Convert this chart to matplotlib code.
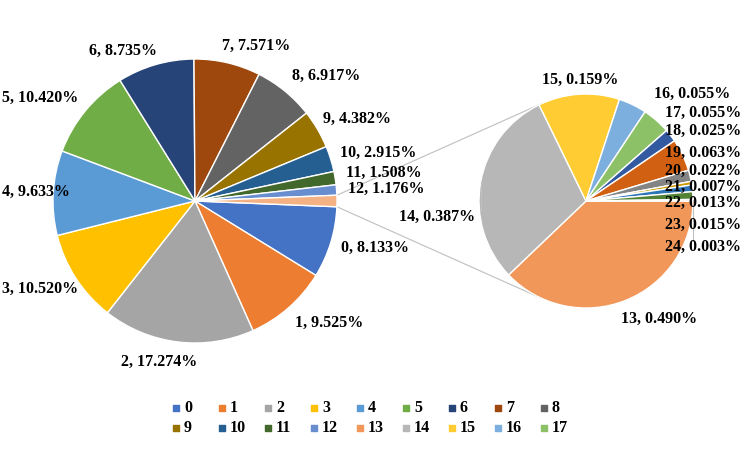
import numpy as np
import matplotlib
matplotlib.use("Agg")
import matplotlib.pyplot as plt

plt.rcParams["font.family"] = ["Liberation Serif", "DejaVu Serif"]
plt.rcParams["font.weight"] = "bold"

# data (percent shares)
cats = [str(i) for i in range(25)]
pct = [8.133, 9.525, 17.274, 10.520, 9.633, 10.420, 8.735, 7.571, 6.917, 4.382,
       2.915, 1.508, 1.176, 0.490, 0.387, 0.159, 0.055, 0.055, 0.025, 0.063,
       0.022, 0.007, 0.013, 0.015, 0.003]
n_main = 13  # points 13..24 go to the second pie
legend_cats = cats[:18]

colors = ["#4472C4", "#ED7D31", "#A5A5A5", "#FFC000", "#5B9BD5", "#70AD47",
          "#264478", "#9E480E", "#636363", "#997300", "#255E91", "#43682B",
          "#698ED0", "#F1975A", "#B7B7B7", "#FFCD33", "#7CAFDD", "#8CC168",
          "#335AA1", "#D26012", "#848484", "#CC9A00", "#2E75B6", "#548235",
          "#8FAADC"]
other_color = "#F4B183"

W, H = 747, 449
FS = 11.5
fig = plt.figure(figsize=(W / 100, H / 100), dpi=100)
ax = fig.add_axes([0, 0, 1, 1])

c1, r1 = (195, H - 201), 142   # main pie (pixel units)
c2, r2 = (586, H - 201), 107   # second pie

main_vals = pct[:n_main] + [sum(pct[n_main:])]
sub_vals = pct[n_main:]
other_half = sum(pct[n_main:]) / sum(main_vals) * 360 / 2
wp = dict(edgecolor="white", linewidth=1.0)
w1, _ = ax.pie(main_vals, center=c1, radius=r1, startangle=-other_half,
               counterclock=False, colors=colors[:n_main] + [other_color],
               wedgeprops=wp)
w2, _ = ax.pie(sub_vals, center=c2, radius=r2, startangle=0,
               counterclock=False, colors=colors[n_main:], wedgeprops=wp)
for w in w1 + w2:
    w.set_zorder(3)

# connector lines: split slice edges -> tangents of second pie
for sgn in (1, -1):
    a = np.radians(sgn * other_half)
    p = np.array([c1[0] + r1 * np.cos(a), c1[1] + r1 * np.sin(a)])
    v = p - np.array(c2)
    phi = np.arctan2(v[1], v[0])
    alpha = np.arccos(r2 / np.hypot(*v))
    t = phi - alpha if sgn > 0 else phi + alpha
    q = (c2[0] + r2 * np.cos(t), c2[1] + r2 * np.sin(t))
    ax.plot([p[0], q[0]], [p[1], q[1]], color="#BFBFBF", lw=0.8, zorder=1)

ax.set_xlim(0, W); ax.set_ylim(0, H)
ax.set_aspect("equal"); ax.axis("off")

renderer = fig.canvas.get_renderer()
# hand tweaks of label placement (pixels, +y is up)
nudge = {1: (10, 0), 2: (-12, 0), 5: (-7, 0), 6: (-20, -5), 7: (18, -3),
         8: (12, 0), 11: (0, 2), 13: (15, 0), 14: (6, -38), 15: (5, -6),
         16: (38, -7), 17: (15, -7), 18: (-4, -8), 19: (0, -6),
         23: (0, -30), 24: (0, -47)}


def place(center, r, wedge, label, d=12):
    th = np.radians((wedge.theta1 + wedge.theta2) / 2)
    c, s = np.cos(th), np.sin(th)
    t = ax.text(0, 0, label, ha="center", va="center", fontsize=FS,
                fontweight="bold", zorder=5)
    bb = t.get_window_extent(renderer)
    w, h = bb.width, bb.height
    x = center[0] + (r + d) * c + w / 2 * c
    y = center[1] + (r + d) * s + h / 2 * s
    return t, x, y, w, h, th


def clamp(x, w):
    return min(max(x, w / 2 + 2), W - w / 2 - 6)


for i, wd in enumerate(w1[:n_main]):
    t, x, y, w, h, th = place(c1, r1, wd, f"{cats[i]}, {pct[i]:.3f}%")
    dx, dy = nudge.get(i, (0, 0))
    t.set_position((clamp(x + dx, w), y + dy))

sub = []
for j, wd in enumerate(w2):
    i = n_main + j
    t, x, y, w, h, th = place(c2, r2, wd, f"{cats[i]}, {pct[i]:.3f}%")
    dx, dy = nudge.get(i, (0, 0))
    sub.append([t, clamp(x + dx, w), y + dy, h, th, y])

# push crowded labels on the right side of the second pie downward
right = sorted([s for s in sub if np.cos(s[4]) > 0.3 and s[1] > c2[0]],
               key=lambda s: -s[2])
for k in range(1, len(right)):
    right[k][2] = min(right[k][2], right[k - 1][2] - 16)
for t, x, y, h, th, y0 in sub:
    t.set_position((x, y))
    if y0 - y > 35:
        ex = c2[0] + r2 * np.cos(th)
        ey = c2[1] + r2 * np.sin(th)
        ax.plot([ex, ex], [ey, y + h / 2 - 2], color="#BFBFBF", lw=0.8, zorder=4)

# legend drawn as two rows of nine
for k, name in enumerate(legend_cats):
    row, col = divmod(k, 9)
    lx, ly = 176 + 46 * col, H - 408 - 20 * row
    ax.scatter([lx], [ly], marker="s", s=22, color=colors[k], zorder=5)
    ax.text(lx + 8, ly, name, ha="left", va="center", fontsize=FS,
            fontweight="bold")

fig.savefig("out.png", dpi=100)
